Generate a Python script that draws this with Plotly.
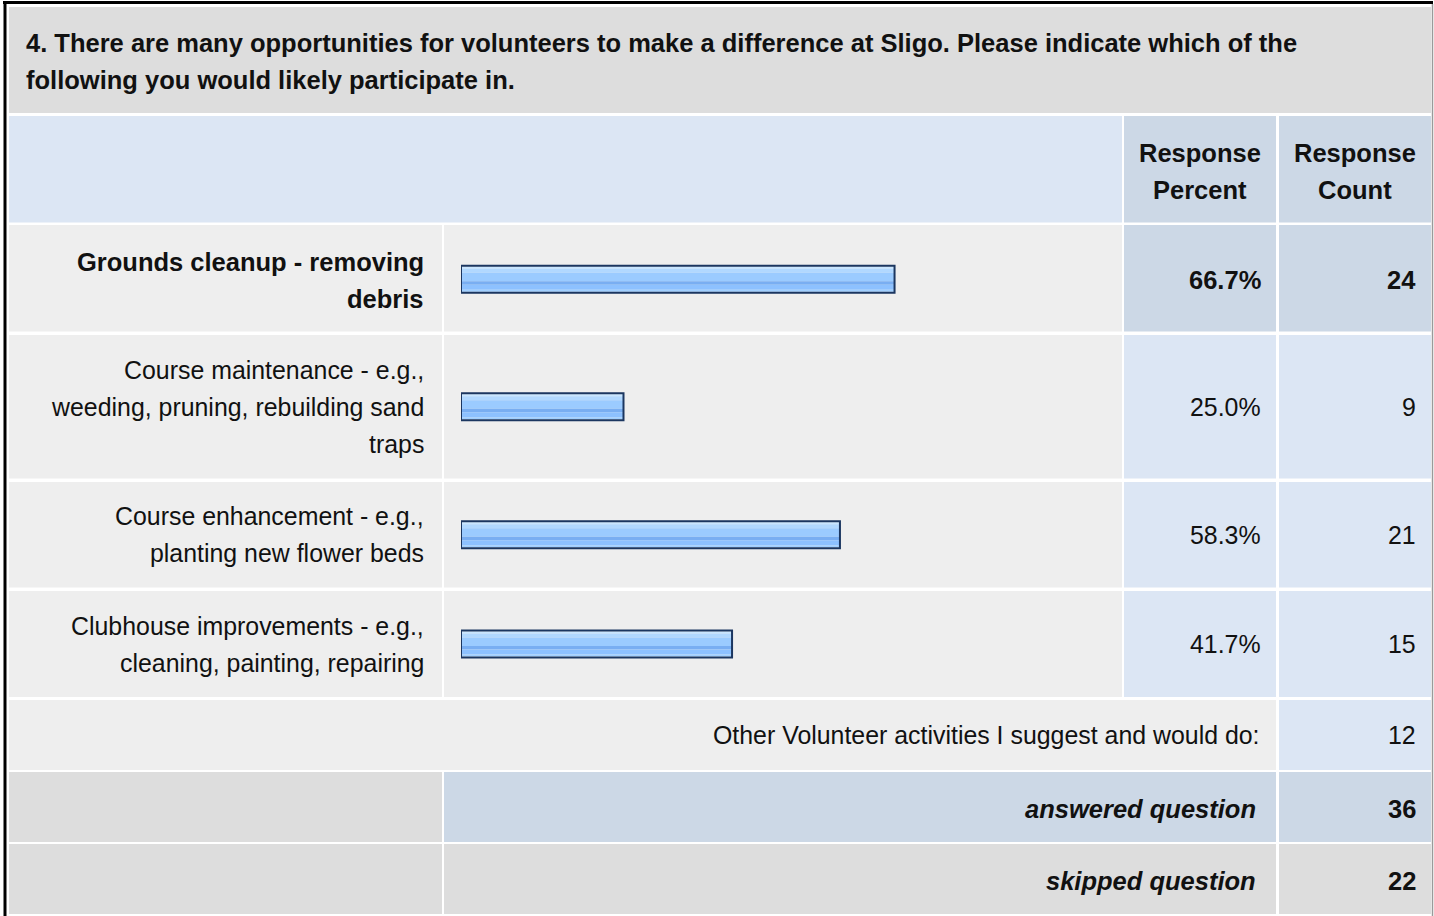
import plotly.graph_objects as go

# ---------------- data ----------------
title_text = ("4. There are many opportunities for volunteers to make a difference at Sligo. Please indicate which of the"
              "<br>following you would likely participate in.")
header_labels = ["Response<br>Percent", "Response<br>Count"]
categories = [
    "Grounds cleanup - removing<br>debris",
    "Course maintenance - e.g.,<br>weeding, pruning, rebuilding sand<br>traps",
    "Course enhancement - e.g.,<br>planting new flower beds",
    "Clubhouse improvements - e.g.,<br>cleaning, painting, repairing",
]
percents = [66.7, 25.0, 58.3, 41.7]
counts = [24, 9, 21, 15]
other_label = "Other Volunteer activities I suggest and would do:"
other_count = 12
summary_labels = ["answered question", "skipped question"]
summary_counts = [36, 22]

# ---------------- layout / styles ----------------
W, H = 1434, 916
FONT = "Liberation Sans, Arial, Helvetica, sans-serif"
FS = 24.9
FSB = 25.5
LINE_H = 37
TXT = "#111111"
GREY = "#DDDDDD"
LIGHT = "#EEEEEE"
BLUE = "#DCE6F4"
BLUE2 = "#CCD8E6"

cols = [(9, 442), (444, 1122), (1124, 1276), (1279, 1431)]
title_row = (7, 113)
header_row = (116, 222.5)
cat_rows = [(225, 331.5), (335, 478.5), (482, 587.5), (591, 697)]
other_row = (700, 770)
summary_rows = [(772, 842), (844, 914)]

bar_px = (461, 1111)     # pixel extent of 0..100 %
BAR_H = 29
stripes = [  # (offset from bar top, height, colour)
    (2, 2, "#C9E6FF"),
    (4, 4, "#B1D8FF"),
    (8, 8.5, "#9BCBFF"),
    (16.5, 3.5, "#79AEF2"),
    (20, 5, "#8DC1FF"),
    (25, 2, "#A0CFFF"),
]
BORDER = "#1B3660"

fig = go.Figure()
shapes = []


def cell(x0, x1, y0, y1, color):
    shapes.append(dict(type="rect", xref="x", yref="y", x0=x0, x1=x1, y0=y0, y1=y1,
                       fillcolor=color, line=dict(width=0), layer="below"))


annotations = []


def text(s, x, yc, xanchor="right", bold=False, italic=False):
    lines = s.split("<br>")
    n = len(lines)
    for i, ln in enumerate(lines):
        t = ln
        if bold:
            t = "<b>" + t + "</b>"
        if italic:
            t = "<i>" + t + "</i>"
        annotations.append(dict(x=x, y=yc + (i - (n - 1) / 2) * LINE_H, xref="x", yref="y",
                                text=t, showarrow=False, xanchor=xanchor, yanchor="middle",
                                font=dict(family=FONT, size=FSB if bold else FS, color=TXT)))


def mid(r):
    return (r[0] + r[1]) / 2


# outer frame
shapes.append(dict(type="line", xref="x", yref="y", x0=3, x1=1433, y0=2.5, y1=2.5,
                   line=dict(color="#000000", width=3), layer="below"))
shapes.append(dict(type="line", xref="x", yref="y", x0=5, x1=5, y0=1, y1=916,
                   line=dict(color="#000000", width=3), layer="below"))
shapes.append(dict(type="line", xref="x", yref="y", x0=1432.5, x1=1432.5, y0=4, y1=916,
                   line=dict(color="#9A9A9A", width=1.5), layer="below"))

# title
cell(cols[0][0], cols[3][1], *title_row, GREY)
text(title_text, 24, mid(title_row) + 1, xanchor="left", bold=True)

# header
cell(cols[0][0], cols[1][1], *header_row, BLUE)
cell(*cols[2], *header_row, BLUE2)
cell(*cols[3], *header_row, BLUE2)
text(header_labels[0], mid(cols[2]), mid(header_row) + 2.5, xanchor="center", bold=True)
text(header_labels[1], mid(cols[3]), mid(header_row) + 2.5, xanchor="center", bold=True)

top_idx = max(range(len(counts)), key=lambda i: counts[i])
for i, (cat, p, c) in enumerate(zip(categories, percents, counts)):
    r = cat_rows[i]
    hi = (i == top_idx)
    cell(*cols[0], *r, LIGHT)
    cell(*cols[1], *r, LIGHT)
    cell(*cols[2], *r, BLUE2 if hi else BLUE)
    cell(*cols[3], *r, BLUE2 if hi else BLUE)
    yc = mid(r) + (2 if hi else 0)
    text(cat, 426, yc, bold=hi)
    text(f"{p:.1f}%", 1262.5, yc, bold=hi)
    text(str(c), 1417.5, yc, bold=hi)

    top = mid(r) - BAR_H / 2 + (1 if hi else 0)
    for off, h, col in stripes:
        fig.add_trace(go.Bar(x=[p], y=[top], base=0, orientation="h", offset=off, width=h,
                             marker=dict(color=col, line=dict(width=0)),
                             xaxis="x2", yaxis="y", hoverinfo="skip", showlegend=False))
    fig.add_trace(go.Bar(x=[p], y=[top], base=0, orientation="h", offset=1, width=BAR_H - 2,
                         marker=dict(color="rgba(0,0,0,0)", line=dict(width=2, color=BORDER)),
                         xaxis="x2", yaxis="y", hoverinfo="skip", showlegend=False))

# other row
cell(cols[0][0], cols[2][1], *other_row, LIGHT)
cell(*cols[3], *other_row, BLUE)
text(other_label, 1261.5, mid(other_row))
text(str(other_count), 1417.5, mid(other_row))

# summary rows
for j, (lab, cnt) in enumerate(zip(summary_labels, summary_counts)):
    r = summary_rows[j]
    cell(*cols[0], *r, GREY)
    cell(cols[1][0], cols[2][1], *r, BLUE2 if j == 0 else GREY)
    cell(*cols[3], *r, BLUE2 if j == 0 else GREY)
    text(lab, 1258, mid(r) + 2, bold=True, italic=True)
    text(str(cnt), 1417.5, mid(r) + 2, bold=True)

fig.update_layout(
    width=W, height=H,
    margin=dict(l=0, r=0, t=0, b=0),
    paper_bgcolor="#FFFFFF", plot_bgcolor="rgba(0,0,0,0)",
    barmode="overlay",
    showlegend=False,
    xaxis=dict(range=[0, W], domain=[0, 1], visible=False, fixedrange=True),
    yaxis=dict(range=[H, 0], domain=[0, 1], visible=False, fixedrange=True),
    xaxis2=dict(range=[0, 100], domain=[bar_px[0] / W, bar_px[1] / W],
                anchor="y", visible=False, fixedrange=True),
    shapes=shapes,
    annotations=annotations,
    font=dict(family=FONT, size=FS, color=TXT),
)

fig.write_html("out.html", config={"displayModeBar": False},
               post_script="document.body.style.margin='0';document.body.style.overflow='hidden';")
